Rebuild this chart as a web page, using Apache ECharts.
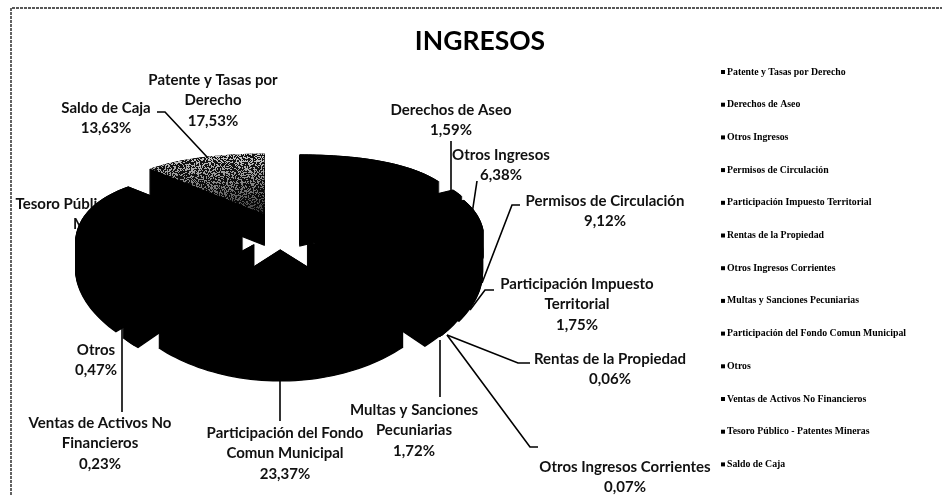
<!DOCTYPE html>
<html>
<head>
<meta charset="utf-8">
<title>INGRESOS</title>
<style>
html, body { margin: 0; padding: 0; background: #fff; }
#chart { width: 942px; height: 495px; }
</style>
<script src="https://cdn.jsdelivr.net/npm/echarts@6/dist/echarts.min.js"></script>
</head>
<body>
<div id="chart"></div>
<script>
// data (Tesoro's label is hidden, its share is what remains of 100)
var categories = ['Patente y Tasas por Derecho', 'Derechos de Aseo', 'Otros Ingresos', 'Permisos de Circulación',
    'Participación Impuesto Territorial', 'Rentas de la Propiedad', 'Otros Ingresos Corrientes',
    'Multas y Sanciones Pecuniarias', 'Participación del Fondo Comun Municipal', 'Otros',
    'Ventas de Activos No Financieros', 'Tesoro Público - Patentes Mineras', 'Saldo de Caja'];
var shares = [17.53, 1.59, 6.38, 9.12, 1.75, 0.06, 0.07, 1.72, 23.37, 0.47, 0.23, 24.08, 13.63];
var labelLines = [['Patente y Tasas por', 'Derecho'], ['Derechos de Aseo'], ['Otros Ingresos'], ['Permisos de Circulación'],
    ['Participación Impuesto', 'Territorial'], ['Rentas de la Propiedad'], ['Otros Ingresos Corrientes'],
    ['Multas y Sanciones', 'Pecuniarias'], ['Participación del Fondo', 'Comun Municipal'], ['Otros'],
    ['Ventas de Activos No', 'Financieros'], ['Tesoro Público - Patentes', 'Mineras'], ['Saldo de Caja']];

// where each label sits: text centre x, first line y, then the leader from the slice to the text
var labelPlaces = [
    { x: 213, y: 80 },
    { x: 451, y: 110, leader: [[451, 195], [451, 141]] },
    { x: 501, y: 155, leader: [[472, 214], [477, 181]] },
    { x: 605, y: 201, leader: [[482, 283], [512, 205], [520, 205]] },
    { x: 577, y: 284, leader: [[470, 310], [485, 290], [494, 290]] },
    { x: 610, y: 359, leader: [[447, 335], [518, 363], [530, 363]] },
    { x: 625, y: 467, leader: [[447, 335], [530, 447], [538, 447]] },
    { x: 414, y: 410, leader: [[440, 340], [440, 397]] },
    { x: 285, y: 433, leader: [[280, 378], [280, 421]] },
    { x: 96, y: 350 },
    { x: 100, y: 423, leader: [[122, 322], [122, 412]] },
    { x: 100, y: 204 },
    { x: 106, y: 108, leader: [[208, 158], [165, 112], [157, 112]] }
];
// the slim slices run together in the scan, these get widened a little so no white slit shows
var widened = [3, 4, 5, 6, 7, 9, 10];

var total = shares.reduce(function (a, b) { return a + b; }, 0);
var starts = [];
shares.reduce(function (sum, v, i) { starts[i] = sum; return sum + v; }, 0);

// the tilted pie, the back is further away so it comes out smaller
var cx = 280, cy = 231, blowX = 38, blowY = 19;
function angle(share) { return share / total * Math.PI * 2; }
function apex(mid) {
    return [cx + blowX * Math.sin(mid), cy - blowY * Math.cos(mid)];
}
function rim(a, t) {
    var rx = 165 - 22 * Math.cos(t), ry = 85 - 25 * Math.cos(t);
    return [a[0] + rx * Math.sin(t), a[1] - ry * Math.cos(t)];
}

// speckle for the one slice that survived the photocopy
function speckle() {
    var c = document.createElement('canvas');
    c.width = c.height = 96;
    var g = c.getContext('2d');
    g.fillStyle = '#151515';
    g.fillRect(0, 0, 96, 96);
    g.fillStyle = '#dcdcdc';
    for (var y = 0; y < 96; y++) {
        for (var x = 0; x < 96; x++) {
            var h = Math.sin(x * 12.9898 + y * 78.233) * 43758.5453;
            if (h - Math.floor(h) < 0.45) g.fillRect(x, y, 1, 1);
        }
    }
    return c;
}
var speckleFill = { image: speckle(), repeat: 'repeat' };

function sliceItem(i) {
    return function (params, api) {
        var v = api.value(0);
        var t0 = angle(starts[i]), t1 = t0 + angle(v), mid = (t0 + t1) / 2;
        var a = apex(mid);
        var depth = 26.5 + 5.5 * Math.cos(mid);
        if (widened.indexOf(i) >= 0) { t0 -= 0.035; t1 += 0.035; }
        var n = Math.max(2, Math.ceil((t1 - t0) / 0.03));
        var pts = [a];
        for (var k = 0; k <= n; k++) pts.push(rim(a, t0 + (t1 - t0) * k / n));

        var kids = [];
        var place = labelPlaces[i];
        var lines = labelLines[i].concat(v.toFixed(2).replace('.', ',') + '%');
        lines.forEach(function (line, li) {
            kids.push({
                type: 'text', silent: true,
                style: {
                    x: place.x, y: place.y + li * 20.5, text: line, fill: '#111',
                    font: 'bold 15px Lato', align: 'center', verticalAlign: 'middle'
                }
            });
        });

        // walls: the top face pushed down a step at a time
        for (var d = depth; d > 0; d -= 1) {
            kids.push({
                type: 'polygon', silent: true,
                shape: { points: pts.map(function (p) { return [p[0], p[1] + d]; }) },
                style: { fill: '#000', stroke: '#000', lineWidth: 1.2 }
            });
        }
        var isSaldo = i === shares.length - 1;
        kids.push({
            type: 'polygon', silent: true,
            shape: { points: pts },
            style: isSaldo ? { fill: speckleFill } : { fill: '#000', stroke: '#000', lineWidth: 1 }
        });
        if (isSaldo) {
            kids.push({
                type: 'polygon', silent: true,
                shape: { points: pts },
                style: {
                    fill: new echarts.graphic.LinearGradient(0, 0, 0, 1, [
                        { offset: 0, color: 'rgba(0,0,0,0.05)' },
                        { offset: 1, color: 'rgba(0,0,0,0.75)' }
                    ])
                }
            });
        }

        if (place.leader) {
            kids.push({
                type: 'polyline', silent: true,
                shape: { points: place.leader },
                style: { fill: 'none', stroke: '#000', lineWidth: 1.6 }
            });
        }
        return { type: 'group', children: kids };
    };
}

var seriesList = categories.map(function (name, i) {
    return {
        type: 'custom',
        name: name,
        coordinateSystem: 'none',
        itemStyle: { color: '#000' },
        renderItem: sliceItem(i),
        data: [[shares[i]]],
        silent: true,
        animation: false
    };
});

var chart = echarts.init(document.getElementById('chart'), null, { renderer: 'canvas' });
chart.setOption({
    animation: false,
    backgroundColor: '#fff',
    title: {
        text: 'INGRESOS',
        left: 475,
        top: 36,
        textAlign: 'center',
        textVerticalAlign: 'middle',
        textStyle: { fontFamily: 'Lato', fontWeight: 'bold', fontSize: 26.5, color: '#000' }
    },
    legend: {
        data: categories,
        orient: 'vertical',
        left: 716,
        top: 62,
        icon: 'rect',
        itemWidth: 4,
        itemHeight: 4,
        itemGap: 22.7,
        selectedMode: false,
        textStyle: {
            fontFamily: 'Liberation Serif', fontWeight: 'bold', fontSize: 9.8,
            color: '#000', padding: [0, 0, 0, -3], lineHeight: 9
        }
    },
    graphic: [{
        type: 'polyline',
        silent: true,
        z: -1,
        shape: { points: [[11, 495], [11, 8], [942, 8]] },
        style: { fill: 'none', stroke: '#222', lineWidth: 1.4, lineDash: [3, 1] }
    }],
    series: seriesList
});
</script>
</body>
</html>
